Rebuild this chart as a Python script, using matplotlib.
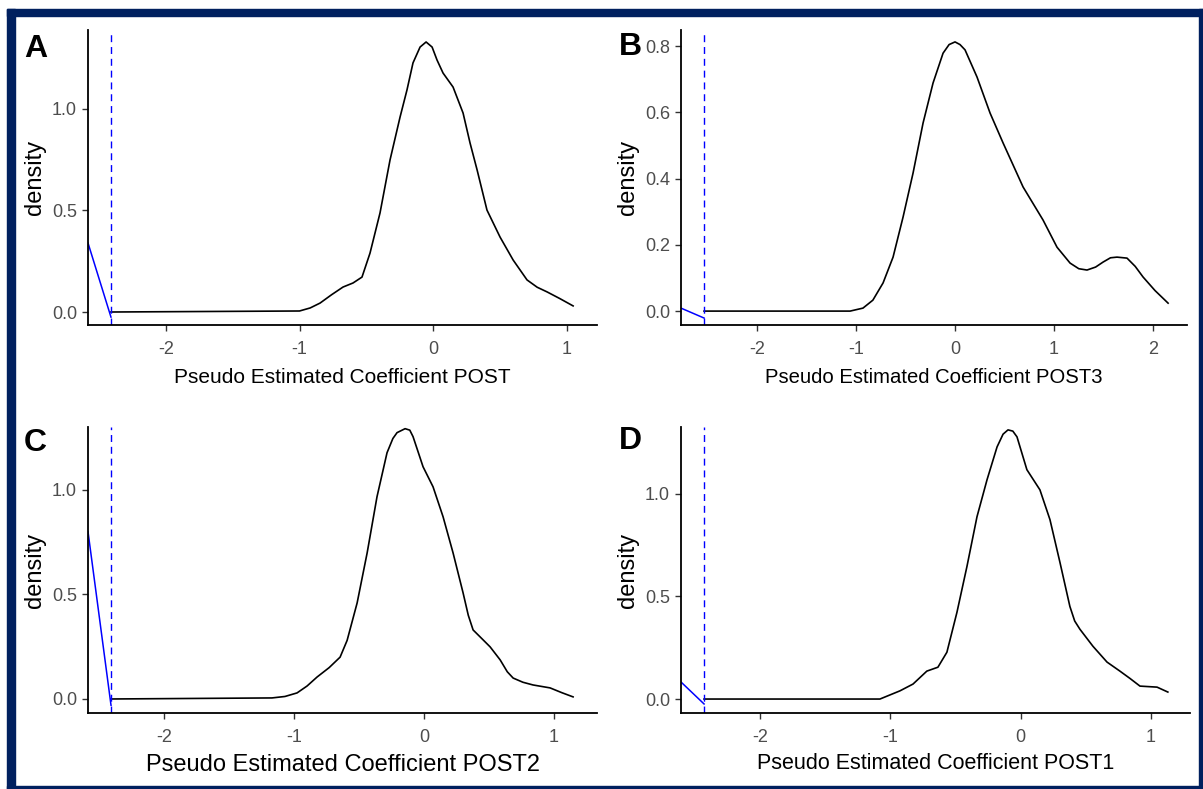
import matplotlib
matplotlib.use("Agg")
import matplotlib.pyplot as plt
from matplotlib.patches import Rectangle

# density curves (x, density)
a_x = [-2.412, -1.0, -0.92, -0.846, -0.76, -0.674, -0.599, -0.532, -0.472, -0.397, -0.322, -0.247, -0.195, -0.15,
       -0.097, -0.052, -0.007, 0.03, 0.075, 0.15, 0.225, 0.277, 0.33, 0.404, 0.502, 0.6, 0.704, 0.78, 0.854, 0.95, 1.049]
a_y = [0.0, 0.005, 0.02, 0.044, 0.085, 0.123, 0.143, 0.172, 0.29, 0.488, 0.749, 0.96, 1.094, 1.227,
       1.305, 1.33, 1.305, 1.241, 1.177, 1.108, 0.98, 0.833, 0.70, 0.502, 0.369, 0.256, 0.158, 0.122, 0.099, 0.066, 0.03]

b_x = [-2.535, -1.06, -0.93, -0.83, -0.727, -0.626, -0.525, -0.424, -0.323, -0.222, -0.121, -0.06, 0.0, 0.05, 0.101,
       0.222, 0.354, 0.485, 0.687, 0.889, 1.03, 1.162, 1.25, 1.333, 1.42, 1.495, 1.57, 1.636, 1.737, 1.82, 1.899, 2.02, 2.152]
b_y = [0.0, 0.0, 0.009, 0.033, 0.085, 0.163, 0.284, 0.417, 0.568, 0.689, 0.779, 0.805, 0.813, 0.805, 0.789,
       0.707, 0.598, 0.508, 0.375, 0.275, 0.193, 0.145, 0.128, 0.124, 0.133, 0.148, 0.161, 0.163, 0.16, 0.135, 0.103, 0.062, 0.024]

c_x = [-2.408, -1.17, -1.07, -0.977, -0.9, -0.823, -0.73, -0.646, -0.592, -0.515, -0.438, -0.362, -0.285, -0.24, -0.208,
       -0.146, -0.11, -0.085, -0.04, -0.008, 0.069, 0.146, 0.223, 0.3, 0.34, 0.377, 0.45, 0.508, 0.585, 0.64, 0.685,
       0.76, 0.838, 0.969, 1.06, 1.146]
c_y = [0.0, 0.005, 0.012, 0.029, 0.062, 0.105, 0.15, 0.2, 0.28, 0.459, 0.698, 0.967, 1.177, 1.245, 1.273,
       1.292, 1.285, 1.254, 1.17, 1.11, 1.014, 0.871, 0.698, 0.507, 0.4, 0.33, 0.285, 0.249, 0.187, 0.13, 0.1,
       0.08, 0.067, 0.053, 0.03, 0.01]

d_x = [-2.43, -1.08, -0.926, -0.826, -0.72, -0.635, -0.566, -0.489, -0.412, -0.335, -0.258, -0.181, -0.135, -0.097,
       -0.06, -0.028, 0.048, 0.148, 0.225, 0.302, 0.378, 0.415, 0.455, 0.555, 0.663, 0.762, 0.84, 0.916, 1.047, 1.13]
d_y = [0.0, 0.0, 0.04, 0.073, 0.136, 0.155, 0.228, 0.422, 0.646, 0.888, 1.068, 1.228, 1.29, 1.311,
       1.305, 1.277, 1.117, 1.019, 0.874, 0.665, 0.451, 0.38, 0.34, 0.257, 0.18, 0.136, 0.1, 0.063, 0.058, 0.034]

# blue reference line + dashed cut-off
a_blue_x, a_blue_y = [-2.584, -2.412], [0.34, -0.025]
b_blue_x, b_blue_y = [-2.768, -2.535], [0.009, -0.021]
c_blue_x, c_blue_y = [-2.585, -2.408], [0.80, -0.03]
d_blue_x, d_blue_y = [-2.607, -2.43], [0.083, -0.024]
cutoffs = [-2.412, -2.535, -2.408, -2.43]

labels = ["A", "B", "C", "D"]
xlabels = ["Pseudo Estimated Coefficient POST", "Pseudo Estimated Coefficient POST3",
           "Pseudo Estimated Coefficient POST2", "Pseudo Estimated Coefficient POST1"]
xticks = [[-2, -1, 0, 1], [-2, -1, 0, 1, 2], [-2, -1, 0, 1], [-2, -1, 0, 1]]
yticks = [[0.0, 0.5, 1.0], [0.0, 0.2, 0.4, 0.6, 0.8], [0.0, 0.5, 1.0], [0.0, 0.5, 1.0]]

FONT = ["Liberation Sans", "DejaVu Sans"]
plt.rcParams["font.family"] = FONT

W, H = 1203, 789
fig = plt.figure(figsize=(W / 100, H / 100), dpi=100)
fig.patch.set_facecolor("white")

navy = "#00205F"
# frame round the figure (pixel boxes: x, y_top, w, h)
for (x0, y0, w, h) in [(7, 9, 1196, 7), (7, 9, 8, 780), (1199, 9, 4, 780), (7, 786, 1196, 3)]:
    fig.patches.append(Rectangle((x0 / W, 1 - (y0 + h) / H), w / W, h / H,
                                 transform=fig.transFigure, color=navy, zorder=0))

# axes boxes in pixels: left, top, right, bottom
boxes = [(88, 30, 597, 325), (681, 30, 1187, 325), (88, 427, 597, 713), (681, 427, 1190, 713)]
xlims = [(-2.584, 1.228), (-2.768, 2.343), (-2.585, 1.33), (-2.607, 1.30)]
ylims = [(-0.064, 1.389), (-0.042, 0.849), (-0.067, 1.30), (-0.068, 1.325)]
lab_size = [15, 14.6, 17, 15.5]
lab_pad = [7, 7, 6, 5]
letter_pos = [(24, 57), (619, 55), (24, 451), (619, 449)]

curves = [(a_x, a_y), (b_x, b_y), (c_x, c_y), (d_x, d_y)]
blues = [(a_blue_x, a_blue_y), (b_blue_x, b_blue_y), (c_blue_x, c_blue_y), (d_blue_x, d_blue_y)]

for i in range(4):
    l, t, r, b = boxes[i]
    ax = fig.add_axes([l / W, 1 - b / H, (r - l) / W, (b - t) / H])
    ax.set_facecolor("none")
    ax.plot(curves[i][0], curves[i][1], color="black", lw=1.2, solid_joinstyle="round")
    ax.plot(blues[i][0], blues[i][1], color="blue", lw=1.1)
    ax.axvline(cutoffs[i], color="blue", lw=1.0, dashes=(5, 3.5))
    ax.set_xlim(*xlims[i])
    ax.set_ylim(*ylims[i])
    ax.set_xticks(xticks[i])
    ax.set_xticklabels([str(v) for v in xticks[i]])
    ax.set_yticks(yticks[i])
    ax.set_yticklabels(["%.1f" % v for v in yticks[i]])
    for s in ["top", "right"]:
        ax.spines[s].set_visible(False)
    for s in ["left", "bottom"]:
        ax.spines[s].set_linewidth(1.3)
        ax.spines[s].set_color("black")
    ax.tick_params(length=4, width=1.0, color="#333333", labelcolor="#4D4D4D", labelsize=13)
    ax.tick_params(axis="x", pad=7.5)
    ax.tick_params(axis="y", pad=4)
    ax.set_xlabel(xlabels[i], fontsize=lab_size[i], labelpad=lab_pad[i])
    ax.set_ylabel("density", fontsize=17, labelpad=4)
    fig.text(letter_pos[i][0] / W, 1 - letter_pos[i][1] / H, labels[i], fontsize=23,
             fontweight="bold", ha="left", va="baseline")

fig.savefig("out.png", dpi=100, facecolor="white")
